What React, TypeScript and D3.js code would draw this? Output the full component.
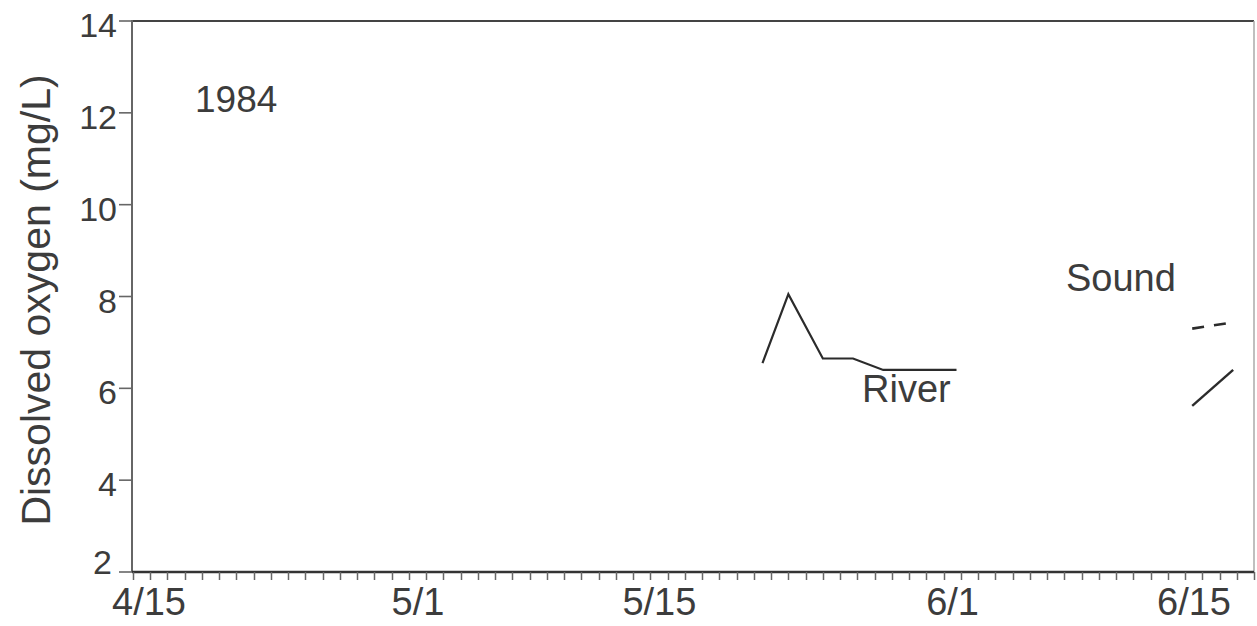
import React, { useEffect, useRef } from "react";
import * as d3 from "d3";

// dissolved oxygen readings, 1984
const riverDates = ["1984-05-21T12:00", "1984-05-23T00:00", "1984-05-25T00:00", "1984-05-26T18:00", "1984-05-28T12:00", "1984-06-01T18:00"];
const riverValues = [6.55, 8.05, 6.65, 6.65, 6.4, 6.4];

const soundTopDates = ["1984-06-15T10:00", "1984-06-17T12:00"];
const soundTopValues = [7.3, 7.42];

const soundBottomDates = ["1984-06-15T10:00", "1984-06-17T19:00"];
const soundBottomValues = [5.62, 6.4];

const yTicks = [2, 4, 6, 8, 10, 12, 14];
const xTickDates = ["1984-04-15", "1984-05-01", "1984-05-15", "1984-06-01", "1984-06-15"];

const parse = d3.timeParse("%Y-%m-%dT%H:%M");
const parseDay = d3.timeParse("%Y-%m-%d");

const App = () => {
  const ref = useRef<SVGSVGElement>(null);

  useEffect(() => {
    const svg = d3.select(ref.current);
    svg.selectAll("*").remove();

    const left = 132, right = 1254, top = 21, bottom = 572;
    const font = "'Liberation Sans', Arial, Helvetica, sans-serif";
    const textColor = "#3c3c3c";

    const x = d3.scaleTime()
      .domain([parseDay("1984-04-15")!, parseDay("1984-06-19")!])
      .range([left + 1, right]);
    const y = d3.scaleLinear().domain([2, 14]).range([bottom, top]);

    // frame
    svg.append("line").attr("x1", left).attr("x2", right).attr("y1", top).attr("y2", top)
      .attr("stroke", "#444").attr("stroke-width", 2.2);
    svg.append("line").attr("x1", right).attr("x2", right).attr("y1", top).attr("y2", bottom)
      .attr("stroke", "#aaa").attr("stroke-width", 1.5);

    // y axis
    const yAxis = svg.append("g");
    yAxis.append("line").attr("x1", left).attr("x2", left).attr("y1", top - 1).attr("y2", bottom)
      .attr("stroke", "#666").attr("stroke-width", 2);
    yAxis.selectAll("line.tick").data(yTicks).enter().append("line")
      .attr("class", "tick")
      .attr("x1", left - 13).attr("x2", left)
      .attr("y1", d => y(d)).attr("y2", d => y(d))
      .attr("stroke", "#666").attr("stroke-width", 1.6);
    yAxis.selectAll("text").data(yTicks).enter().append("text")
      .attr("x", d => (d === 2 ? left - 20 : left - 15))
      .attr("y", d => y(d) + (d === 2 ? 2 : 16))
      .attr("text-anchor", "end")
      .attr("font-family", font).attr("font-size", 34)
      .attr("fill", textColor)
      .text(d => d);

    // x axis with daily ticks
    const xAxis = svg.append("g");
    xAxis.append("line").attr("x1", left).attr("x2", right).attr("y1", bottom).attr("y2", bottom)
      .attr("stroke", "#333").attr("stroke-width", 2.6);
    const days = d3.timeDay.range(parseDay("1984-04-15")!, parseDay("1984-06-20")!);
    xAxis.selectAll("line.tick").data(days).enter().append("line")
      .attr("class", "tick")
      .attr("x1", d => Math.round(x(d)) + 0.5).attr("x2", d => Math.round(x(d)) + 0.5)
      .attr("y1", bottom).attr("y2", bottom + 8)
      .attr("stroke", "#666").attr("stroke-width", 1.5);
    xAxis.selectAll("text").data(xTickDates.map(s => parseDay(s)!)).enter().append("text")
      .attr("x", (d, i) => x(d) + (i === 0 ? 16 : 9))
      .attr("y", bottom + 43)
      .attr("text-anchor", "middle")
      .attr("font-family", font).attr("font-size", 38)
      .attr("fill", textColor)
      .text(d => d3.timeFormat("%-m/%-d")(d));

    // axis title
    svg.append("text")
      .attr("transform", "translate(50,300) rotate(-90)")
      .attr("text-anchor", "middle")
      .attr("font-family", font).attr("font-size", 41)
      .attr("fill", textColor)
      .text("Dissolved oxygen (mg/L)");

    const line = d3.line<[Date, number]>().x(d => x(d[0])).y(d => y(d[1]));
    const series = (dates: string[], values: number[]) =>
      dates.map((s, i) => [parse(s)!, values[i]] as [Date, number]);

    svg.append("path").datum(series(riverDates, riverValues))
      .attr("d", line).attr("fill", "none").attr("stroke", "#2b2b2b").attr("stroke-width", 2.2);
    svg.append("path").datum(series(soundTopDates, soundTopValues))
      .attr("d", line).attr("fill", "none").attr("stroke", "#2b2b2b").attr("stroke-width", 2.6)
      .attr("stroke-dasharray", "12,10");
    svg.append("path").datum(series(soundBottomDates, soundBottomValues))
      .attr("d", line).attr("fill", "none").attr("stroke", "#2b2b2b").attr("stroke-width", 2.4);

    // annotations
    const notes = [
      { t: "1984", x: 195, y: 112, s: 37 },
      { t: "Sound", x: 1066, y: 291, s: 38 },
      { t: "River", x: 862, y: 402, s: 38 },
    ];
    svg.selectAll("text.note").data(notes).enter().append("text")
      .attr("class", "note")
      .attr("x", d => d.x).attr("y", d => d.y)
      .attr("font-family", font).attr("font-size", d => d.s)
      .attr("fill", textColor)
      .text(d => d.t);
  }, []);

  return (
    <svg ref={ref} width={1257} height={626}
      style={{ position: "absolute", left: 0, top: 0, background: "#fff" }} />
  );
};

export default App;
